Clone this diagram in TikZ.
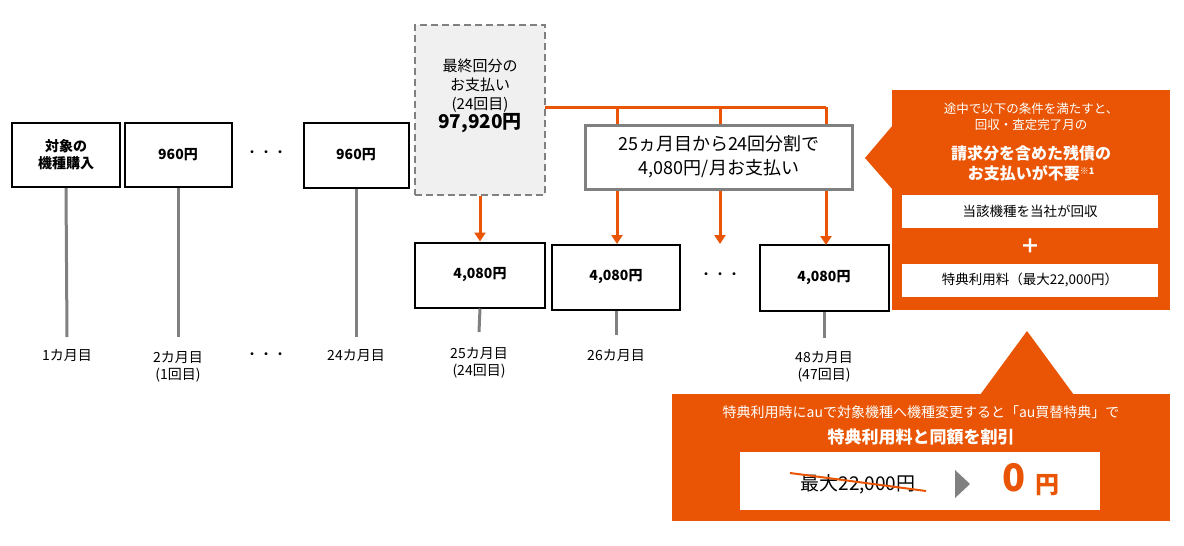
\documentclass[tikz,border=0pt]{standalone}
\usepackage{fontspec}
\setmainfont{Noto Sans CJK JP}
\definecolor{org}{HTML}{E95504}
\definecolor{gln}{HTML}{808080}
\begin{document}
\begin{tikzpicture}[x=1pt,y=-1pt,
  bx/.style={draw=black,line width=2pt,fill=white,inner sep=0pt,align=center,font=\bfseries\fontsize{14}{17}\selectfont},
  lbl/.style={align=center,font=\fontsize{14}{17}\selectfont},
  gl/.style={draw=gln,line width=3pt},
  oa/.style={draw=org,line width=3pt,-{Triangle[length=9pt,width=11pt]}},
  wt/.style={text=white,align=center}]
\useasboundingbox (0,0) rectangle (1184,546);
\usetikzlibrary{arrows.meta}
% top row
\node[bx,minimum width=108pt,minimum height=64pt] (a) at (66,155) {対象の\\機種購入};
\node[bx,minimum width=107pt,minimum height=64pt] (b) at (178,155) {960円};
\node[bx,minimum width=105pt,minimum height=65pt] (c) at (356,155) {960円};
\node[lbl] (d1) at (266,154) {・・・};
\node[draw=gln,dashed,dash pattern=on 7pt off 4pt,line width=2pt,fill=black!6,minimum width=130pt,minimum height=170pt,align=center,font=\fontsize{15}{19}\selectfont] (f) at (480,110) {最終回分の\\お支払い\\(24回目)\\{\bfseries\fontsize{19}{23}\selectfont 97,920円}\\[14pt]};
% labels
\node[lbl] (l1) at (67,356) {1カ月目};
\node[lbl] (l2) at (178,367) {2カ月目\\(1回目)};
\node[lbl] (d2) at (266,356) {・・・};
\node[lbl] (l3) at (356,356) {24カ月目};
\draw[gl] (a.south) -- (l1.north|-0,337);
\draw[gl] (b.south) -- (178,337);
\draw[gl] (c.south) -- (356,337);
% second row
\node[bx,minimum width=130pt,minimum height=65pt] (g) at (480,275) {4,080円};
\node[bx,minimum width=128pt,minimum height=65pt] (h) at (616,277) {4,080円};
\node[lbl] (d3) at (720,276) {・・・};
\node[bx,minimum width=129pt,minimum height=66pt] (k) at (824,278) {4,080円};
\node[lbl] (l4) at (479,363) {25カ月目\\(24回目)};
\node[lbl] (l5) at (616,356) {26カ月目};
\node[lbl] (l6) at (824,367) {48カ月目\\(47回目)};
\coordinate (g1) at (479,332);
\coordinate (h1) at (616,335);
\coordinate (k1) at (824,338);
\draw[gl] (g.south) -- (g1);
\draw[gl] (h.south) -- (h1);
\draw[gl] (k.south) -- (k1);
\draw[oa] (f.south-|g.north) -- (g.north);
% orange split
\coordinate (s0) at (545,107);
\coordinate (s1) at (617,107);
\coordinate (s2) at (720,107);
\coordinate (s3) at (826,107);
\draw[org,line width=3pt] (s0) -- (s3);
\draw[oa] (s1) -- (617,244);
\draw[oa] (s2) -- (720,244);
\draw[oa] (s3) -- (826,245);
\node[draw=gln,line width=3pt,fill=white,minimum width=267pt,minimum height=64pt,align=center,font=\fontsize{18}{24}\selectfont] (m) at (719,157) {25ヵ月目から24回分割で\\4,080円/月お支払い};
% right callout
\fill[org] (892,90) rectangle (1170,310);
\fill[org] (893,125) -- (865,158) -- (893,190) -- cycle;
\node[wt,font=\fontsize{12.5}{16}\selectfont] (t1) at (1031,117) {途中で以下の条件を満たすと、\\回収・査定完了月の};
\node[wt,font=\bfseries\fontsize{16}{20}\selectfont] (t2) at (1031,163) {請求分を含めた残債の\\お支払いが不要{\fontsize{9}{9}\selectfont\raisebox{5pt}{※1}}};
\node[fill=white,minimum width=256pt,minimum height=33pt,font=\fontsize{13.5}{16}\selectfont] (w1) at (1030,211) {当該機種を当社が回収};
\node[wt,font=\bfseries\fontsize{20}{20}\selectfont] (pl) at (1030,246) {＋};
\node[fill=white,minimum width=256pt,minimum height=33pt,font=\fontsize{13.5}{16}\selectfont] (w2) at (1030,280) {特典利用料（最大22,000円）};
% bottom callout
\fill[org] (1027,331) -- (1074,395) -- (980,395) -- cycle;
\fill[org] (672,394) rectangle (1170,521);
\node[wt,font=\fontsize{14}{17}\selectfont] (b1) at (921,412) {特典利用時にauで対象機種へ機種変更すると「au買替特典」で};
\node[wt,font=\bfseries\fontsize{17}{20}\selectfont] (b2) at (921,437) {特典利用料と同額を割引};
\fill[white] (740,452) rectangle (1100,510);
\node[font=\fontsize{19}{22}\selectfont] (o1) at (858,484) {最大22,000円};
\draw[org,line width=2pt] (790,473) -- (926,491);
\fill[gln] (955,470) -- (970,484) -- (955,498) -- cycle;
\node[text=org,font=\bfseries\fontsize{38}{40}\selectfont] (z) at (1014,478) {0};
\node[text=org,font=\bfseries\fontsize{24}{26}\selectfont] (y) at (1047,485) {円};
\end{tikzpicture}
\end{document}
